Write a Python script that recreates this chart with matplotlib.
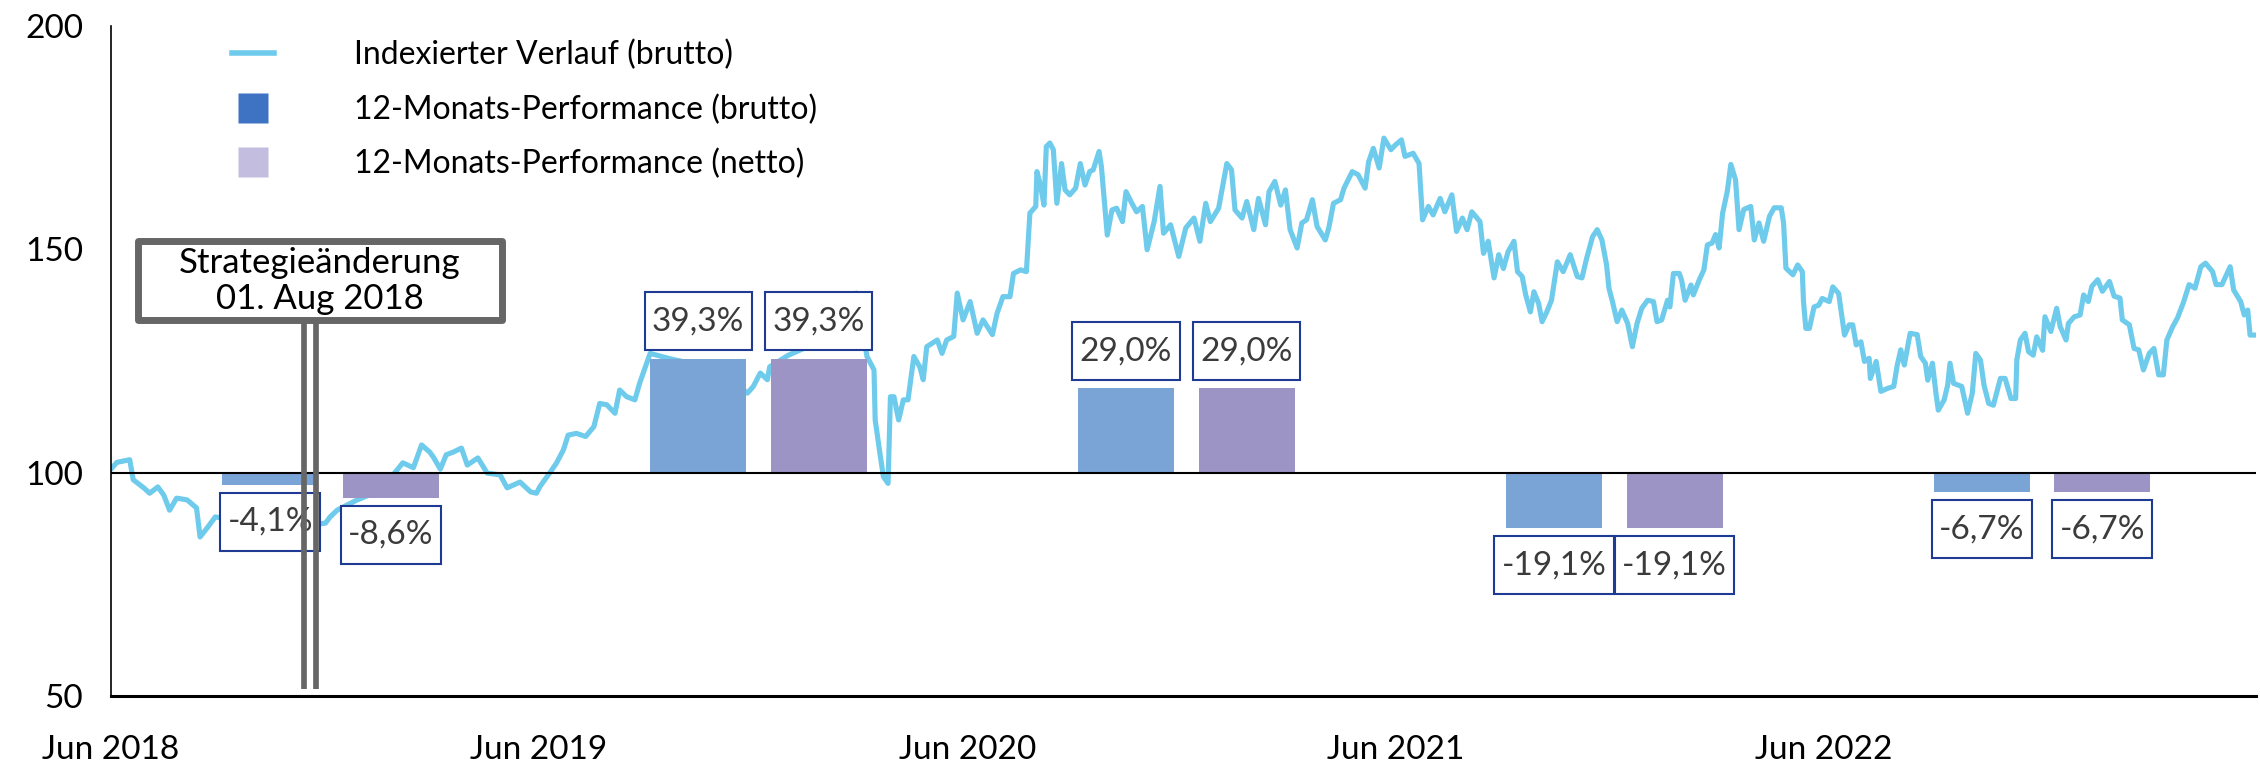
import numpy as np
import pandas as pd
import matplotlib
matplotlib.use("Agg")
import matplotlib.pyplot as plt
import matplotlib.dates as mdates
from matplotlib.lines import Line2D
from matplotlib.patches import Rectangle
from matplotlib.path import Path

plt.rcParams['font.family'] = ['Lato', 'DejaVu Sans']

START = pd.Timestamp("2018-06-01")
END = pd.Timestamp("2023-06-05")

# indexed gross performance (days after 1 Jun 2018, index value)
line_days = [0, 5, 16, 19, 28, 33, 40, 45, 50, 56, 65, 73, 76, 82, 89, 110, 136, 161, 183, 187,
             193, 210, 225, 236, 244, 249, 258, 265, 272, 275, 281, 286, 292, 299, 304, 313, 321, 332, 338, 349,
             358, 363, 366, 375, 380, 386, 390, 397, 405, 412, 417, 423, 430, 434, 440, 447, 451, 456, 460, 477,
             503, 528, 543, 548, 554, 560, 562, 578, 597, 614, 626, 636, 645, 651, 652, 656, 659, 663, 665, 668,
             672, 676, 680, 685, 690, 693, 696, 705, 709, 713, 719, 722, 727, 733, 739, 744, 752, 756, 761, 767,
             770, 776, 781, 784, 789, 790, 793, 796, 798, 801, 804, 807, 811, 814, 818, 823, 827, 831, 835, 838,
             843, 845, 850, 854, 858, 863, 866, 871, 875, 880, 884, 890, 895, 898, 904, 908, 911, 917, 924, 929,
             934, 938, 945, 952, 956, 959, 965, 969, 975, 979, 985, 988, 993, 998, 1002, 1006, 1012, 1016, 1020, 1025,
             1029, 1036, 1039, 1043, 1049, 1052, 1059, 1064, 1070, 1073, 1077, 1082, 1086, 1092, 1096, 1101, 1104, 1111, 1116, 1119,
             1124, 1128, 1134, 1138, 1144, 1148, 1153, 1157, 1161, 1168, 1171, 1175, 1180, 1184, 1188, 1192, 1197, 1200, 1204, 1207,
             1211, 1214, 1218, 1221, 1225, 1229, 1234, 1239, 1245, 1251, 1255, 1259, 1264, 1268, 1272, 1276, 1278, 1281, 1285, 1289,
             1294, 1298, 1302, 1306, 1311, 1316, 1319, 1323, 1328, 1330, 1333, 1338, 1340, 1343, 1348, 1350, 1355, 1359, 1362, 1366,
             1369, 1372, 1375, 1379, 1382, 1386, 1389, 1393, 1399, 1402, 1406, 1410, 1415, 1419, 1425, 1427, 1429, 1435, 1439, 1443,
             1444, 1446, 1449, 1453, 1457, 1460, 1466, 1469, 1474, 1476, 1479, 1483, 1486, 1489, 1493, 1496, 1500, 1501, 1506, 1510,
             1516, 1521, 1524, 1527, 1530, 1535, 1541, 1544, 1548, 1550, 1554, 1557, 1559, 1564, 1567, 1569, 1572, 1579, 1584, 1588,
             1591, 1595, 1598, 1602, 1606, 1612, 1616, 1621, 1625, 1626, 1629, 1633, 1636, 1640, 1643, 1648, 1650, 1655, 1660, 1663,
             1668, 1670, 1675, 1680, 1683, 1687, 1690, 1695, 1699, 1705, 1709, 1714, 1716, 1722, 1726, 1730, 1734, 1739, 1743, 1747,
             1751, 1754, 1759, 1763, 1768, 1773, 1778, 1783, 1787, 1793, 1796, 1801, 1806, 1808, 1811, 1817, 1820, 1823, 1825, 1831]
line_vals = [100.8, 102.3, 102.9, 98.4, 96.6, 95.4, 96.8, 95.0, 91.6, 94.3, 93.9, 92.1, 85.6, 87.6, 90.1, 89.0, 87.5, 88.0, 88.7, 90.1,
             91.6, 93.9, 95.5, 98.0, 100.6, 102.2, 101.1, 106.2, 104.6, 103.5, 100.8, 104.0, 104.6, 105.5, 101.7, 103.3, 99.9, 99.5, 96.6, 97.9,
             95.7, 95.4, 96.9, 100.2, 102.1, 105.1, 108.4, 108.8, 108.1, 110.3, 115.5, 115.2, 113.3, 118.5, 117.0, 116.3, 120.0, 123.7, 126.7, 125.5,
             124.0, 121.0, 117.8, 119.3, 122.3, 120.8, 123.7, 126.3, 128.5, 132.0, 136.0, 140.2, 126.0, 123.0, 111.8, 104.4, 99.1, 97.6, 117.0, 117.0,
             111.8, 116.3, 116.3, 126.0, 123.7, 120.8, 128.2, 129.7, 126.7, 129.7, 130.5, 140.2, 134.2, 138.3, 131.2, 134.2, 130.9, 135.7, 139.4, 139.4,
             144.6, 145.4, 145.0, 158.1, 159.6, 167.4, 164.4, 159.9, 173.0, 173.8, 172.3, 160.3, 169.2, 163.3, 162.2, 163.7, 169.2, 164.4, 167.4, 167.8,
             171.9, 168.5, 153.2, 158.8, 159.2, 156.2, 162.9, 160.3, 158.4, 159.6, 149.9, 156.2, 164.1, 153.6, 155.5, 151.4, 148.4, 154.8, 157.0, 151.8,
             160.3, 156.2, 159.2, 169.2, 167.8, 158.8, 157.0, 160.7, 154.4, 161.4, 155.5, 162.9, 165.2, 159.9, 163.3, 154.4, 150.3, 155.9, 156.6, 161.1,
             155.1, 152.1, 154.8, 160.3, 161.1, 163.7, 167.4, 166.7, 163.7, 169.6, 172.6, 168.2, 174.9, 172.3, 173.4, 174.5, 170.8, 171.5, 169.2, 156.6,
             159.6, 157.7, 161.4, 158.4, 162.2, 154.0, 157.0, 154.4, 158.4, 156.2, 149.1, 151.8, 143.6, 148.8, 145.7, 149.5, 151.8, 145.0, 143.9, 139.8,
             136.0, 140.5, 137.9, 133.8, 136.0, 138.6, 147.2, 145.0, 148.8, 143.9, 143.6, 148.0, 152.8, 154.4, 152.1, 146.5, 141.3, 138.3, 133.8, 136.4,
             133.4, 128.2, 133.4, 136.8, 138.6, 138.3, 133.8, 134.2, 138.6, 137.1, 144.6, 144.6, 143.1, 138.6, 142.0, 139.8, 143.1, 145.4, 151.0, 151.4,
             153.3, 150.3, 158.1, 163.0, 169.0, 165.6, 154.4, 158.9, 159.6, 152.1, 155.9, 151.8, 157.4, 159.3, 159.3, 155.9, 145.8, 144.3, 146.5, 145.0,
             138.3, 132.3, 132.3, 137.1, 137.5, 139.0, 138.3, 141.6, 140.1, 136.4, 130.8, 133.1, 133.1, 128.6, 129.3, 124.9, 125.6, 121.1, 124.9, 118.2,
             118.9, 119.3, 124.1, 127.5, 124.1, 131.2, 130.9, 126.0, 124.5, 120.7, 124.5, 117.8, 114.0, 116.3, 119.6, 124.5, 120.0, 119.3, 113.3, 117.8,
             126.7, 125.2, 119.6, 115.5, 115.1, 121.1, 121.1, 116.6, 116.6, 125.2, 129.7, 131.2, 127.1, 126.3, 130.4, 127.4, 134.9, 131.6, 136.8, 132.7,
             129.7, 133.4, 134.9, 135.3, 139.8, 138.3, 141.7, 143.2, 140.6, 142.8, 139.5, 139.1, 134.2, 133.1, 127.8, 127.5, 123.0, 126.7, 127.8, 121.9,
             121.9, 129.7, 132.7, 134.6, 138.0, 142.1, 141.3, 146.1, 146.9, 145.0, 142.1, 142.1, 145.0, 146.1, 140.9, 138.3, 135.3, 136.4, 130.8, 130.8]

# 12-month performance (%)
gross_dates = ["2018-10-15", "2019-10-15", "2020-10-14", "2021-10-14", "2022-10-14"]
net_dates = ["2019-01-26", "2020-01-26", "2021-01-25", "2022-01-25", "2023-01-25"]
gross_perf = [-4.1, 39.3, 29.0, -19.1, -6.7]
net_perf = [-8.6, 39.3, 29.0, -19.1, -6.7]

tick_dates = ["2018-06-01", "2019-06-01", "2020-06-01", "2021-06-01", "2022-06-01"]
tick_labels = ["Jun 2018", "Jun 2019", "Jun 2020", "Jun 2021", "Jun 2022"]

strategy_dates = ["2018-11-13", "2018-11-23"]
strategy_text = "Strategieänderung\n01. Aug 2018"

LINE_C = "#6ECBEC"
GROSS_C = "#7BA4D6"
NET_C = "#9D94C6"
LEG_GROSS_C = "#3D73C2"
LEG_NET_C = "#C3BEDF"
BOX_EDGE = "#1F3A93"
TXT_C = "#3B3B3B"
BAR_SCALE = 0.65


def label_box(x0, y0, width, height, mutation_size):
    # rectangle with more room above/below the text than at the sides
    px = 0.22 * mutation_size
    py = 0.42 * mutation_size
    l, r = x0 - px, x0 + width + px
    b, t = y0 - py, y0 + height + py
    return Path([(l, b), (r, b), (r, t), (l, t), (l, b)], closed=True)


fig = plt.figure(figsize=(22.6, 7.64), dpi=100)
ax = fig.add_axes([0.0491, 0.089, 0.9491, 0.877])

x_line = mdates.date2num(START + pd.to_timedelta(line_days, unit="D"))
ax.plot(x_line, line_vals, color=LINE_C, lw=3.7, solid_joinstyle="round", zorder=2)

ax.set_xlim(mdates.date2num(START), mdates.date2num(END))
ax.set_ylim(50, 200)
ax.set_yticks([50, 100, 150, 200])
ax.set_xticks(mdates.date2num(pd.to_datetime(tick_dates)))
ax.set_xticklabels(tick_labels)
ax.tick_params(axis="y", length=0, labelsize=24, pad=20)
ax.tick_params(axis="x", length=0, labelsize=24, pad=28)
for s in ["top", "right"]:
    ax.spines[s].set_visible(False)
ax.spines["left"].set_linewidth(1.2)
ax.spines["bottom"].set_linewidth(2.2)

# bars on a hidden secondary scale, 0 % sits on index 100
ax2 = ax.twinx()
ax2.set_ylim(-50 / BAR_SCALE, 100 / BAR_SCALE)
ax2.set_yticks([])
for s in ax2.spines.values():
    s.set_visible(False)

xg = mdates.date2num(pd.to_datetime(gross_dates))
xn = mdates.date2num(pd.to_datetime(net_dates))
ax2.bar(xg, gross_perf, width=82, color=GROSS_C, zorder=2)
ax2.bar(xn, net_perf, width=82, color=NET_C, zorder=2)
ax2.axhline(0, color="black", lw=1.5, zorder=3)

for xs, vals in [(xg, gross_perf), (xn, net_perf)]:
    for x, v in zip(xs, vals):
        lab = f"{v:.1f}".replace(".", ",") + "%"
        off = 16 if v > 0 else -16
        ax2.annotate(lab, (x, v), xytext=(0, off), textcoords="offset points",
                     ha="center", va="bottom" if v > 0 else "top",
                     fontsize=24, color=TXT_C, zorder=4,
                     bbox=dict(boxstyle=label_box, fc="white", ec=BOX_EDGE, lw=1.5))

# strategy change marker
for d in strategy_dates:
    xd = mdates.date2num(pd.Timestamp(d))
    ax2.plot([xd, xd], [51.5, 134], color="#666666", lw=4.1, transform=ax.transData,
             solid_capstyle="butt", zorder=5)
ax2.add_patch(Rectangle((0.0125, 0.5615), 0.1699, 0.1173, transform=ax.transAxes,
                        fc="white", ec="#666666", lw=5, joinstyle="round", zorder=6))
ax2.text(0.0974, 0.620, strategy_text, transform=ax.transAxes, ha="center", va="center",
         fontsize=25, color="black", linespacing=1.15, zorder=7)

handles = [
    Line2D([0], [0], color=LINE_C, lw=4),
    Line2D([0], [0], marker="s", ls="none", markersize=21, markerfacecolor=LEG_GROSS_C, markeredgecolor="none"),
    Line2D([0], [0], marker="s", ls="none", markersize=21, markerfacecolor=LEG_NET_C, markeredgecolor="none"),
]
labels = ["Indexierter Verlauf (brutto)", "12-Monats-Performance (brutto)", "12-Monats-Performance (netto)"]
leg = ax2.legend(handles, labels, loc="upper left", bbox_to_anchor=(0.0566, 0.979), frameon=False,
                 fontsize=23, handlelength=1.3, handletextpad=2.5, labelspacing=0.75,
                 borderpad=0, borderaxespad=0)
leg.set_zorder(8)

fig.savefig("out.png", dpi=100)
